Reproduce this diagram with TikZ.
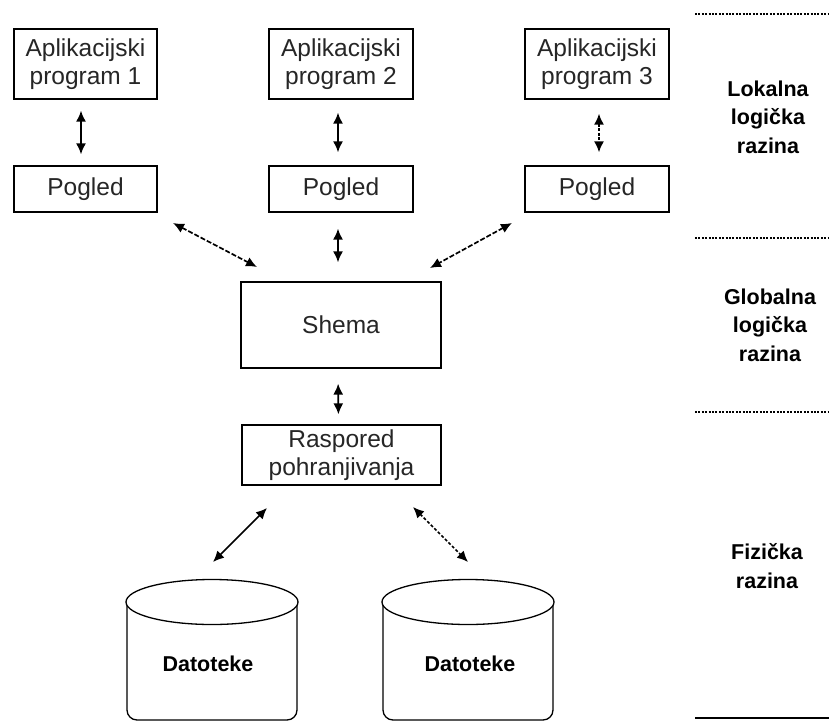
\documentclass[tikz,border=0pt]{standalone}
\usepackage{fontspec}
\setmainfont{Liberation Sans}
\usetikzlibrary{arrows.meta}
\begin{document}
\begin{tikzpicture}[x=1pt,y=-1pt,
  box/.style={draw=black, line width=1.3pt, fill=white, align=center,
    font=\fontsize{24.5}{28.5}\selectfont, text=black!85, inner sep=0pt},
  level/.style={align=center, font=\fontsize{21.5}{28.5}\selectfont\bfseries},
  store/.style={font=\fontsize{21.5}{26}\selectfont\bfseries},
  link/.style={line width=1.7pt, {Latex[length=11pt,width=10pt]}-{Latex[length=11pt,width=10pt]}},
  brokenlink/.style={link, dash pattern=on 5pt off 2pt},
  sep/.style={line width=1.3pt, dash pattern=on 2pt off 1.4pt}
]
\useasboundingbox (0,0) rectangle (829,722);

% application programs
\node[box, minimum width=143pt, minimum height=70pt] (app1) at (85.5,64) {Aplikacijski\\program 1};
\node[box, minimum width=144pt, minimum height=70pt] (app2) at (341,64) {Aplikacijski\\program 2};
\node[box, minimum width=144pt, minimum height=70pt] (app3) at (597,64) {Aplikacijski\\program 3};

% views
\node[box, minimum width=143pt, minimum height=46pt] (pog1) at (85.5,189) {Pogled};
\node[box, minimum width=144pt, minimum height=46pt] (pog2) at (341,189) {Pogled};
\node[box, minimum width=144pt, minimum height=46pt] (pog3) at (597,189) {Pogled};

% schema and storage layout
\node[box, minimum width=200pt, minimum height=86pt] (shema) at (341,325) {Shema};
\node[box, minimum width=199pt, minimum height=60pt] (rasp) at (341.5,455) {Raspored\\pohranjivanja};

% file stores
\draw[line width=1.3pt, rounded corners=10pt] (127,602) -- (127,720) -- (297,720) -- (297,602);
\draw[line width=1.3pt, fill=white] (212,602) ellipse [x radius=86pt, y radius=22.5pt];
\node[store] (dat1) at (208,664) {Datoteke};

\draw[line width=1.3pt, rounded corners=10pt] (383,602) -- (383,720) -- (553,720) -- (553,602);
\draw[line width=1.3pt, fill=white] (468,602) ellipse [x radius=86pt, y radius=22.5pt];
\node[store] (dat2) at (470,664) {Datoteke};

% connector end points
\coordinate (p1a) at (173,223);  \coordinate (p1b) at (257,267);
\coordinate (p3a) at (512,223);  \coordinate (p3b) at (430,268);
\coordinate (r1a) at (267,508);  \coordinate (r1b) at (213,562);
\coordinate (r2a) at (413,507);  \coordinate (r2b) at (468,562);

% connectors
\draw[link, shorten >=11pt, shorten <=11pt] ([xshift=-4.5pt]app1.south) -- ([xshift=-4.5pt]pog1.north);
\draw[link, shorten >=13pt, shorten <=13pt] ([xshift=-3pt]app2.south) -- ([xshift=-3pt]pog2.north);
\draw[link, dash pattern=on 3pt off 1.5pt, shorten >=13pt, shorten <=14pt] ([xshift=2pt]app3.south) -- ([xshift=2pt]pog3.north);
\draw[link, shorten >=19pt, shorten <=16pt] ([xshift=-3pt]pog2.south) -- ([xshift=-3pt]shema.north);
\draw[link, shorten >=10pt, shorten <=15pt] ([xshift=-3pt]shema.south) -- ([xshift=-3pt]rasp.north);
\draw[brokenlink] (p1a) -- (p1b);
\draw[brokenlink] (p3a) -- (p3b);
\draw[link] (r1a) -- (r1b);
\draw[link, dash pattern=on 3pt off 2pt] (r2a) -- (r2b);

% level separators and labels
\coordinate (s0l) at (695,14);  \coordinate (s0r) at (829,14);
\coordinate (s1l) at (695,238); \coordinate (s1r) at (829,238);
\coordinate (s2l) at (695,412); \coordinate (s2r) at (829,412);
\coordinate (s3l) at (695,718); \coordinate (s3r) at (829,718);
\draw[sep] (s0l) -- (s0r);
\draw[sep] (s1l) -- (s1r);
\draw[sep] (s2l) -- (s2r);
\draw[line width=1.3pt] (s3l) -- (s3r);

\node[level] (lok) at (768,117) {Lokalna\\logička\\razina};
\node[level] (glob) at (770,325) {Globalna\\logička\\razina};
\node[level] (fiz) at (767,566) {Fizička\\razina};
\end{tikzpicture}
\end{document}
